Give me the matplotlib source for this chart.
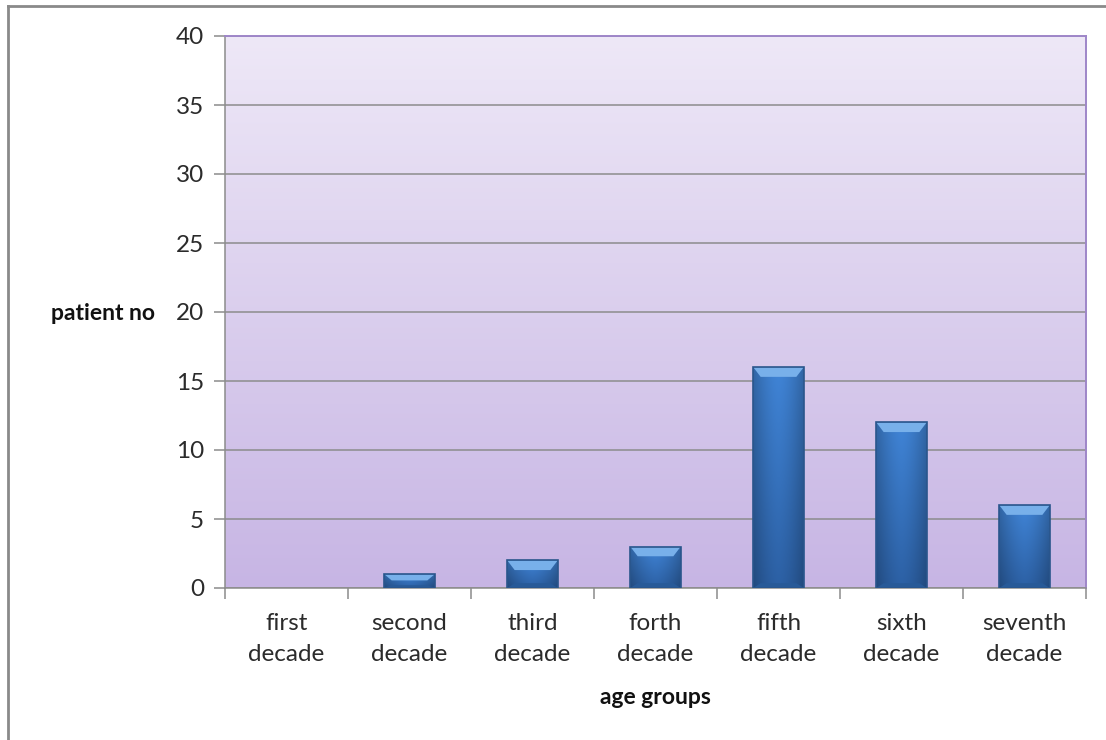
import matplotlib.pyplot as plt
import numpy as np
from matplotlib.patches import Rectangle, Polygon
from matplotlib.lines import Line2D

# data
categories = ['first\ndecade', 'second\ndecade', 'third\ndecade', 'forth\ndecade',
              'fifth\ndecade', 'sixth\ndecade', 'seventh\ndecade']
patients = [0, 1, 2, 3, 16, 12, 6]
y_ticks = [0, 5, 10, 15, 20, 25, 30, 35, 40]

plt.rcParams['font.family'] = ['Lato', 'DejaVu Sans']

fig = plt.figure(figsize=(11.06, 7.40), dpi=100)
ax = fig.add_axes([225 / 1106, 1 - 588 / 740, (1086 - 225) / 1106, (588 - 36) / 740])

n = len(categories)
x = np.arange(n)
ax.set_xlim(-0.5, n - 0.5)
ax.set_ylim(0, 40)

# plot area gradient (light lavender -> purple)
top_c = np.array([238, 232, 247]) / 255
bot_c = np.array([199, 181, 228]) / 255
t = np.linspace(0, 1, 256)[:, None]
bg = (top_c * (1 - t) + bot_c * t)[:, None, :]
ax.imshow(bg, extent=(-0.5, n - 0.5, 0, 40), origin='upper', aspect='auto', zorder=0)

ax.set_yticks(y_ticks)
ax.yaxis.grid(True, color='#8c8c8c', lw=1.1, zorder=1)
ax.set_axisbelow(True)

# bars with a shaded / bevelled look
w = 0.41
hx = np.linspace(0, 1, 64)
shade_h = 1 - 0.35 * np.abs(hx - 0.5) ** 1.6 * 2
for xi, v in zip(x, patients):
    if v <= 0:
        continue
    vy = np.linspace(0, 1, 64)[:, None]
    c_top = np.array([64, 132, 214]) / 255
    c_bot = np.array([44, 96, 164]) / 255
    col = c_top * (1 - vy) + c_bot * vy
    img = col[:, None, :] * shade_h[None, :, None]
    x0, x1 = xi - w / 2, xi + w / 2
    im = ax.imshow(np.clip(img, 0, 1), extent=(x0, x1, 0, v), origin='upper',
                   aspect='auto', zorder=3)
    rect = Rectangle((x0, 0), w, v, facecolor='none', edgecolor='#2a568c',
                     lw=1.2, zorder=5)
    ax.add_patch(rect)
    im.set_clip_path(rect)
    # top bevel
    b = min(0.7, v * 0.45)
    dx = 0.06
    ax.add_patch(Polygon([(x0, v), (x1, v), (x1 - dx, v - b), (x0 + dx, v - b)],
                         closed=True, facecolor='#78b0ea', edgecolor='none', zorder=4))
    # bottom bevel
    bb = min(0.35, v * 0.2)
    ax.add_patch(Polygon([(x0, 0), (x1, 0), (x1 - dx, bb), (x0 + dx, bb)],
                         closed=True, facecolor='#285a98', edgecolor='none', zorder=4))

ax.set_xticks(x)
ax.set_xticklabels(categories, fontsize=17.5, color='#2b2b2b', linespacing=1.6)
ax.set_xticks(np.arange(-0.5, n, 1), minor=True)
ax.tick_params(axis='x', which='major', length=0, pad=18)
ax.tick_params(axis='x', which='minor', length=8, color='#8c8c8c', width=1.1)
ax.tick_params(axis='y', length=8, color='#8c8c8c', width=1.1, labelsize=17.5,
               labelcolor='#2b2b2b', pad=7)

for s in ['left', 'bottom']:
    ax.spines[s].set_color('#8c8c8c')
    ax.spines[s].set_linewidth(1.1)
for s in ['top', 'right']:
    ax.spines[s].set_color('#9e86c8')
    ax.spines[s].set_linewidth(1.4)

fig.text(103 / 1106, 1 - 313 / 740, 'patient no', fontsize=16.5, fontweight='bold',
         ha='center', va='center', color='#111111')
fig.text(655 / 1106, 1 - 697 / 740, 'age groups', fontsize=16.5, fontweight='bold',
         ha='center', va='center', color='#111111')

# outer chart border (top and left visible)
fig.add_artist(Line2D([8 / 1106, 1.0], [1 - 6 / 740, 1 - 6 / 740],
                      transform=fig.transFigure, color='#8a8a8a', lw=2))
fig.add_artist(Line2D([8 / 1106, 8 / 1106], [0, 1 - 6 / 740],
                      transform=fig.transFigure, color='#8a8a8a', lw=2))

fig.savefig('out.png', dpi=100)
